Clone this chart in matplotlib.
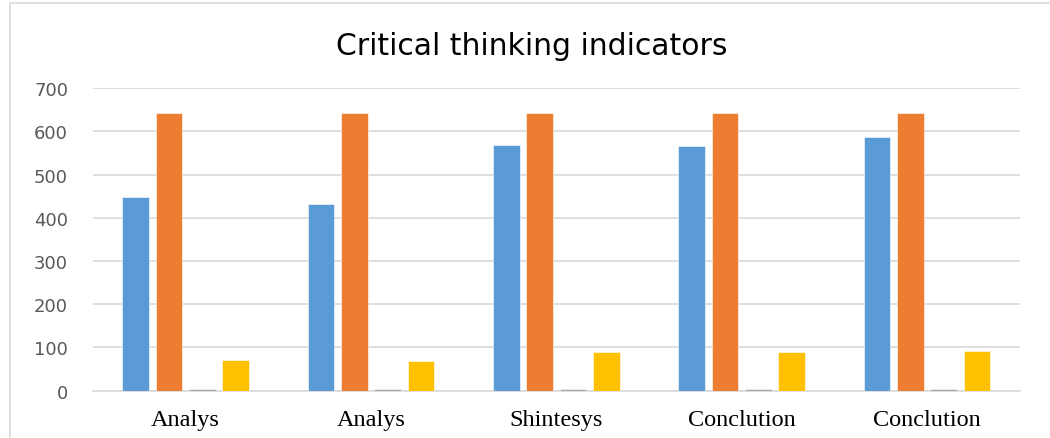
import matplotlib
matplotlib.use("Agg")
import matplotlib.pyplot as plt
import numpy as np
from matplotlib.patches import Rectangle

categories = ["Analys", "Analys", "Shintesys", "Conclution", "Conclution"]
series_blue = [447, 432, 568, 565, 587]
series_orange = [642, 642, 642, 642, 642]
series_gray = [4, 4, 4, 4, 4]
series_yellow = [71, 68, 89, 89, 92]
yticks = [0, 100, 200, 300, 400, 500, 600, 700]

colors = ["#5B9BD5", "#ED7D31", "#A5A5A5", "#FFC000"]

fig = plt.figure(figsize=(10.5, 4.39), dpi=100)
ax = fig.add_axes([0.0886, 0.1077, 0.971 - 0.0886, 0.797 - 0.1077])

x = np.arange(len(categories))
slot = 0.18
width = 0.144
all_series = [series_blue, series_orange, series_gray, series_yellow]
for i, (vals, c) in enumerate(zip(all_series, colors)):
    ax.bar(x + (i - 1.5) * slot, vals, width=width, color=c,
           edgecolor="white", linewidth=0.4, zorder=3)

ax.set_xlim(-0.5, len(categories) - 0.5)
ax.set_ylim(0, 700)
ax.set_yticks(yticks)
ax.set_yticklabels([str(v) for v in yticks], fontsize=13, color="#595959",
                   family="DejaVu Sans")
ax.set_xticks(x)
ax.set_xticklabels(categories, fontsize=17.5, color="black", family="Liberation Serif")
ax.tick_params(axis="both", length=0)
ax.tick_params(axis="y", pad=18)
ax.tick_params(axis="x", pad=13)
ax.grid(axis="y", color="#D9D9D9", linewidth=1.2, zorder=0)
for s in ["top", "right", "left"]:
    ax.spines[s].set_visible(False)
ax.spines["bottom"].set_color("#D9D9D9")
ax.spines["bottom"].set_linewidth(1.2)

fig.text(0.506, 0.893, "Critical thinking indicators", ha="center", va="center",
         fontsize=21.5, color="black", family="DejaVu Sans")

fig.patches.append(Rectangle((0.0095, -0.02), 1.0, 1.011, transform=fig.transFigure,
                             fill=False, edgecolor="#D9D9D9", linewidth=1.2))

fig.savefig("out.png", dpi=100)
